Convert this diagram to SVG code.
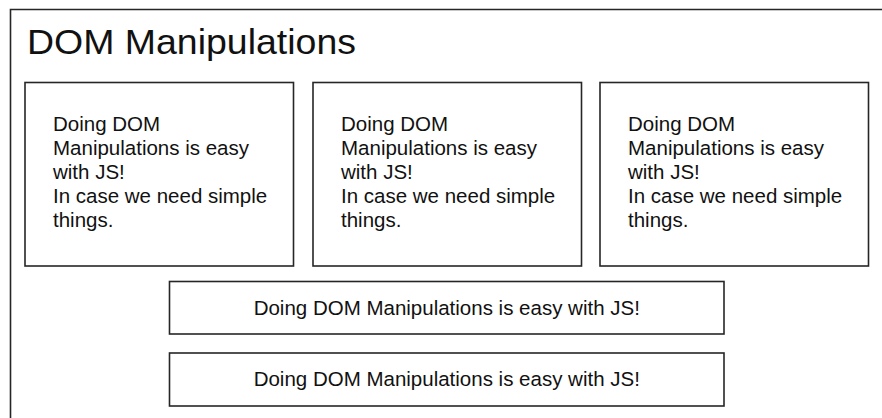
<svg xmlns="http://www.w3.org/2000/svg" width="882" height="418" viewBox="0 0 882 418">
<style>
.box{fill:#fff;stroke:#262626;stroke-width:1.6}
.t{font-family:"Liberation Sans",Arial,sans-serif;font-size:20.5px;fill:#111}
.title{font-family:"Liberation Sans",Arial,sans-serif;font-size:35px;fill:#111}
</style>
<rect width="882" height="418" fill="#fff"/>
<g id="frame">
<path d="M10.5,418 V9.5 H882" fill="none" stroke="#262626" stroke-width="1.6"/>
<text class="title" x="27" y="53.5" textLength="329" lengthAdjust="spacingAndGlyphs">DOM Manipulations</text>
</g>
<g id="card1">
<rect class="box" x="25" y="82.5" width="268.5" height="183.5"/>
<text class="t" x="53"><tspan x="53" y="131">Doing DOM</tspan><tspan x="53" y="155">Manipulations is easy</tspan><tspan x="53" y="179">with JS!</tspan><tspan x="53" y="203">In case we need simple</tspan><tspan x="53" y="227">things.</tspan></text>
</g>
<g id="card2">
<rect class="box" x="313" y="82.5" width="268.5" height="183.5"/>
<text class="t" x="341"><tspan x="341" y="131">Doing DOM</tspan><tspan x="341" y="155">Manipulations is easy</tspan><tspan x="341" y="179">with JS!</tspan><tspan x="341" y="203">In case we need simple</tspan><tspan x="341" y="227">things.</tspan></text>
</g>
<g id="card3">
<rect class="box" x="600" y="82.5" width="268.5" height="183.5"/>
<text class="t" x="628"><tspan x="628" y="131">Doing DOM</tspan><tspan x="628" y="155">Manipulations is easy</tspan><tspan x="628" y="179">with JS!</tspan><tspan x="628" y="203">In case we need simple</tspan><tspan x="628" y="227">things.</tspan></text>
</g>
<g id="bar1">
<rect class="box" x="169.5" y="281.5" width="554.5" height="52.5"/>
<text class="t" x="446.75" y="315" text-anchor="middle">Doing DOM Manipulations is easy with JS!</text>
</g>
<g id="bar2">
<rect class="box" x="169.5" y="353" width="554.5" height="53"/>
<text class="t" x="446.75" y="386" text-anchor="middle">Doing DOM Manipulations is easy with JS!</text>
</g>
<g id="connectors"></g>
</svg>
